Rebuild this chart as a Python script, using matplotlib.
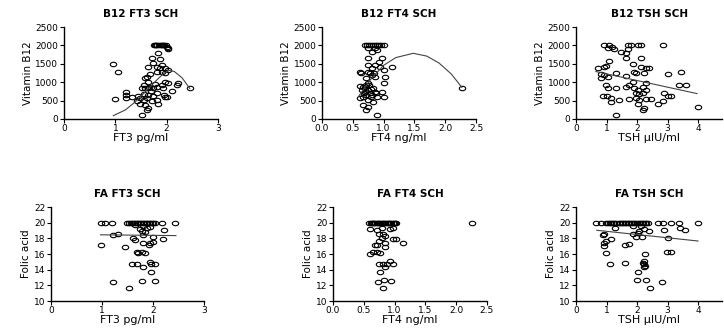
import matplotlib
matplotlib.use('Agg')
import matplotlib.pyplot as plt
from matplotlib.path import Path
from matplotlib.transforms import Affine2D

# B12 vs FT3
b12_ft3_x = [1.75, 1.78, 1.80, 1.82, 1.85, 1.88, 1.90, 1.93, 1.95, 1.98, 2.00, 2.03, 2.02,
             1.84, 1.71, 1.87, 1.74, 1.90, 1.81, 0.96, 1.06, 1.64,
             1.87, 1.97, 2.03, 1.90, 1.81, 1.97, 1.68, 1.61, 1.58,
             1.97, 2.03, 2.23, 2.21, 2.45,
             1.64, 1.55, 1.58, 1.52, 1.64, 1.74, 1.81, 1.90, 2.10, 1.97, 1.94, 1.81, 1.74, 1.64, 1.55,
             1.21, 1.21, 0.99, 1.21, 1.32,
             1.45, 1.48, 1.55, 1.61, 1.42, 1.48, 1.58, 1.64, 1.61, 1.51, 1.71, 1.81, 1.84, 2.00, 1.70, 1.78, 1.66, 1.92]
b12_ft3_y = [2000, 2000, 2000, 2000, 2000, 2000, 2000, 2000, 2000, 2000, 1960, 1920, 1900,
             1785, 1650, 1630, 1510, 1467, 1420, 1495, 1287, 1420,
             1377, 1377, 1330, 1290, 1290, 1240, 1210, 1150, 1120,
             1015, 970, 970, 925, 850,
             1015, 925, 850, 835, 835, 835, 880, 925, 760, 605, 650, 700, 635, 650, 670,
             725, 650, 540, 580, 605,
             635, 560, 515, 580, 490, 400, 380, 310, 250, 100, 480, 515, 420, 605, 760, 950, 880, 830]
fit_ft3_x = [0.96, 1.2, 1.4, 1.6, 1.8, 1.95, 2.05, 2.15, 2.3, 2.45]
fit_ft3_y = [90, 250, 480, 760, 1050, 1250, 1320, 1290, 1120, 830]

# B12 vs FT4
b12_ft4_x = [0.70, 0.73, 0.76, 0.80, 0.83, 0.86, 0.90, 0.93, 0.96, 1.00,
             0.75, 0.86, 0.81, 0.89,
             0.75, 0.97, 0.92, 0.75, 0.86, 0.81, 0.94, 1.13, 1.00,
             0.62, 0.64, 0.75, 0.81, 0.72, 1.02, 0.86, 0.78, 0.84,
             1.00, 0.62, 0.67, 0.72, 0.77, 0.83, 0.75, 0.70, 0.65, 0.86, 0.97, 0.81, 0.72, 0.67, 0.62,
             0.89, 1.00, 0.75, 0.83, 0.67, 0.75, 0.72, 0.89, 2.27,
             0.70, 0.78, 0.80, 0.74, 0.88, 0.68, 0.79]
b12_ft4_y = [2000, 2000, 2000, 2000, 2000, 2000, 2000, 2000, 2000, 2000,
             1920, 1920, 1830, 1880,
             1665, 1665, 1560, 1480, 1465, 1375, 1420, 1420, 1330,
             1287, 1240, 1287, 1195, 1120, 1150, 1150, 1250, 1240,
             970, 905, 880, 925, 925, 855, 790, 745, 790, 745, 745, 655, 655, 610, 565,
             610, 610, 520, 475, 380, 330, 240, 100, 834,
             860, 700, 820, 980, 700, 700, 600]
fit_ft4_x = [0.6, 0.8, 1.0, 1.2, 1.48, 1.7, 1.9, 2.1, 2.27]
fit_ft4_y = [630, 1100, 1460, 1670, 1785, 1710, 1520, 1220, 860]

# B12 vs TSH
b12_tsh_x = [0.93, 1.09, 1.18, 1.04, 1.26, 1.69, 1.80, 2.02, 2.13, 2.84, 1.69, 1.64, 1.48,
             1.64, 2.13, 1.09, 0.98, 0.93, 1.86, 2.13,
             0.71, 2.30, 2.40, 1.91, 1.97, 2.24, 0.82, 0.93, 1.04, 1.31, 1.64, 3.00, 3.44, 3.39, 3.61,
             0.82, 1.86, 2.30, 0.98, 1.31, 1.04, 1.64, 1.75, 1.91, 2.02, 2.19, 2.30, 1.97, 2.08, 2.19,
             2.90, 3.00, 3.11, 0.87, 1.00, 1.15, 1.97, 2.08, 2.30, 2.46, 1.75, 1.42, 1.15, 2.02,
             2.68, 2.84, 2.24, 2.19, 3.99, 1.31]
b12_tsh_y = [2010, 2010, 1965, 1940, 1900, 2010, 2010, 2010, 2010, 2010, 1900, 1785, 1810,
             1665, 1665, 1575, 1450, 1420, 1485, 1420,
             1375, 1375, 1375, 1285, 1240, 1240, 1210, 1195, 1150, 1240, 1180, 1225, 1270, 925, 925,
             1120, 1015, 970, 925, 835, 835, 880, 925, 835, 790, 880, 790, 700, 680, 700,
             700, 635, 635, 625, 625, 580, 580, 515, 540, 540, 540, 515, 465, 420,
             395, 485, 300, 240, 335, 100]
fit_tsh_x = [0.65, 3.97]
fit_tsh_y = [1290, 690]

# Folic acid vs FT3
fa_ft3_x = [0.98, 1.05, 1.20, 1.50, 1.53, 1.56, 1.59, 1.62, 1.65, 1.68, 1.71, 1.74, 1.77, 1.80,
            1.83, 1.86, 1.89, 1.92, 1.95, 1.98, 2.01, 2.04, 2.18, 2.43,
            1.65, 1.81, 1.88, 1.74, 1.94, 1.78, 1.84, 2.22, 1.22, 1.31, 1.81, 2.01, 2.20, 1.61, 1.65,
            2.01, 0.99, 1.45, 1.81, 1.92, 1.94,
            1.68, 1.71, 1.78, 1.84,
            1.58, 1.68, 1.94, 1.97, 2.04, 1.81, 1.97, 1.22, 1.78, 2.04, 1.53]
fa_ft3_y = [20, 20, 20, 20, 20, 20, 20, 20, 20, 20, 20, 20, 20, 20,
            20, 20, 20, 20, 20, 20, 20, 20, 20, 19.9,
            19.75, 19.6, 19.3, 19.2, 19.4, 19.0, 18.8, 19.1, 18.4, 18.5, 18.4, 18.2, 17.9, 18.0, 17.8,
            17.5, 17.2, 16.9, 17.4, 17.1, 17.4,
            16.2, 16.1, 16.2, 16.1,
            14.7, 14.7, 15.0, 14.7, 14.7, 14.4, 13.7, 12.4, 12.6, 12.6, 11.7]
fit_fa_ft3_x = [0.97, 2.45]
fit_fa_ft3_y = [18.45, 18.35]

# Folic acid vs FT4
fa_ft4_x = [0.58, 0.61, 0.63, 0.65, 0.67, 0.69, 0.71, 0.73, 0.75, 0.77, 0.79, 0.81, 0.83, 0.85,
            0.87, 0.89, 0.91, 0.93, 0.95, 0.97, 0.99, 1.01, 1.03, 2.25,
            0.60, 0.71, 0.79, 0.93, 0.98, 0.74, 0.82, 0.84, 0.79, 0.98, 1.02, 1.14, 0.74, 0.84,
            0.71, 0.68, 0.84, 0.60, 0.65, 0.71, 0.76,
            0.74, 0.82, 0.87, 0.98, 0.93, 0.84, 0.76, 0.73, 0.83, 0.95, 0.81]
fa_ft4_y = [20, 20, 20, 20, 20, 20, 20, 20, 20, 20, 20, 20, 20, 20,
            20, 20, 20, 20, 20, 20, 20, 20, 20, 19.9,
            19.2, 19.1, 19.3, 19.2, 19.3, 18.6, 18.6, 18.3, 18.1, 17.9, 17.9, 17.4, 17.7, 17.4,
            17.2, 17.1, 16.9, 16.0, 16.2, 16.2, 16.1,
            14.7, 14.7, 14.7, 14.7, 15.1, 14.4, 13.7, 12.4, 12.7, 12.6, 11.7]
fit_fa_ft4_x = []
fit_fa_ft4_y = []

# Folic acid vs TSH
fa_tsh_x = [0.66, 0.82, 0.98, 1.05, 1.10, 1.15, 1.20, 1.25, 1.30, 1.40, 1.45, 1.50, 1.55, 1.60,
            1.65, 1.70, 1.75, 1.80, 1.85, 1.90, 1.95, 2.00, 2.05, 2.10, 2.15, 2.20, 2.25, 2.30, 2.35,
            2.68, 2.84, 3.11, 3.39, 3.99,
            1.29, 1.86, 2.13, 2.24, 2.40, 2.90, 3.41, 3.58, 2.08, 2.02, 1.86, 1.97, 2.16, 3.00,
            0.87, 0.93, 1.15, 0.98, 0.93, 0.93, 1.62, 1.75, 0.98, 2.97, 3.11,
            1.11, 1.62, 2.19, 2.24, 2.26, 2.24, 2.24, 2.03, 2.00, 2.30, 2.82, 2.44, 2.26]
fa_tsh_y = [20, 20, 20, 20, 20, 20, 20, 20, 20, 20, 20, 20, 20, 20,
            20, 20, 20, 20, 20, 20, 20, 20, 20, 20, 20, 20, 20, 20, 20,
            20, 20, 20, 20, 20,
            19.3, 19.6, 19.6, 19.2, 18.9, 19.1, 19.3, 19.1, 18.9, 18.7, 18.5, 18.2, 18.2, 18.1,
            18.4, 18.6, 17.9, 17.6, 17.4, 17.0, 17.1, 17.3, 16.1, 16.2, 16.3,
            14.7, 14.8, 14.8, 14.7, 14.5, 14.4, 15.1, 13.7, 12.7, 12.7, 12.4, 11.7, 16.0]
fit_fa_tsh_x = [0.68, 4.0]
fit_fa_tsh_y = [19.03, 17.66]

titles = ['B12 FT3 SCH', 'B12 FT4 SCH', 'B12 TSH SCH', 'FA FT3 SCH', 'FA FT4 SCH', 'FA TSH SCH']
xlabels = ['FT3 pg/ml', 'FT4 ng/ml', 'TSH \u00b5IU/ml']

# wide open-ellipse marker (reference is squashed vertically)
circ = Path.unit_circle()
oval = Path(Affine2D().scale(1.45, 1.0).transform(circ.vertices), circ.codes)

fig = plt.figure(figsize=(7.24, 3.29), dpi=100)

# left, bottom, width, height in figure fraction
pos = [[0.0884, 0.6383, 0.2127, 0.2796],
       [0.4448, 0.6383, 0.2127, 0.2796],
       [0.7956, 0.6383, 0.2022, 0.2796],
       [0.0704, 0.0851, 0.2113, 0.2857],
       [0.4599, 0.0851, 0.2127, 0.2857],
       [0.7956, 0.0851, 0.2022, 0.2857]]

xs = [b12_ft3_x, b12_ft4_x, b12_tsh_x, fa_ft3_x, fa_ft4_x, fa_tsh_x]
ys = [b12_ft3_y, b12_ft4_y, b12_tsh_y, fa_ft3_y, fa_ft4_y, fa_tsh_y]
fxs = [fit_ft3_x, fit_ft4_x, fit_tsh_x, fit_fa_ft3_x, fit_fa_ft4_x, fit_fa_tsh_x]
fys = [fit_ft3_y, fit_ft4_y, fit_tsh_y, fit_fa_ft3_y, fit_fa_ft4_y, fit_fa_tsh_y]

for i in range(6):
    ax = fig.add_axes(pos[i])
    col = i % 3
    ax.plot(xs[i], ys[i], linestyle='none', marker=oval, markersize=4.6,
            markerfacecolor='none', markeredgecolor='black', markeredgewidth=0.8)
    if len(fxs[i]) > 0:
        ax.plot(fxs[i], fys[i], color='#444444', linewidth=0.8)

    if col == 0:
        ax.set_xlim(0, 3)
        ax.set_xticks([0, 1, 2, 3])
    elif col == 1:
        ax.set_xlim(0, 2.5)
        ax.set_xticks([0.0, 0.5, 1.0, 1.5, 2.0, 2.5])
        ax.set_xticklabels(['0.0', '0.5', '1.0', '1.5', '2.0', '2.5'])
    else:
        ax.set_xlim(0, 4.8)
        ax.set_xticks([0, 1, 2, 3, 4])

    if i < 3:
        ax.set_ylim(0, 2500)
        ax.set_yticks([0, 500, 1000, 1500, 2000, 2500])
        ax.set_ylabel('Vitamin B12', fontsize=7.5, family=['Liberation Sans Narrow', 'DejaVu Sans'],
                      labelpad=2)
    else:
        ax.set_ylim(10, 22)
        ax.set_yticks([10, 12, 14, 16, 18, 20, 22])
        ax.set_ylabel('Folic acid', fontsize=7.5, family=['Liberation Sans Narrow', 'DejaVu Sans'],
                      labelpad=2)

    ax.set_title(titles[i], fontsize=7.5, fontweight='bold', pad=7)
    ax.set_xlabel(xlabels[col], fontsize=8, labelpad=0)
    ax.spines['top'].set_visible(False)
    ax.spines['right'].set_visible(False)
    ax.spines['left'].set_linewidth(1.0)
    ax.spines['bottom'].set_linewidth(1.0)
    ax.tick_params(direction='out', length=3, width=0.8, labelsize=6.5, pad=1)
    ax.tick_params(axis='x', pad=0.5)

fig.savefig('out.png', dpi=100)
